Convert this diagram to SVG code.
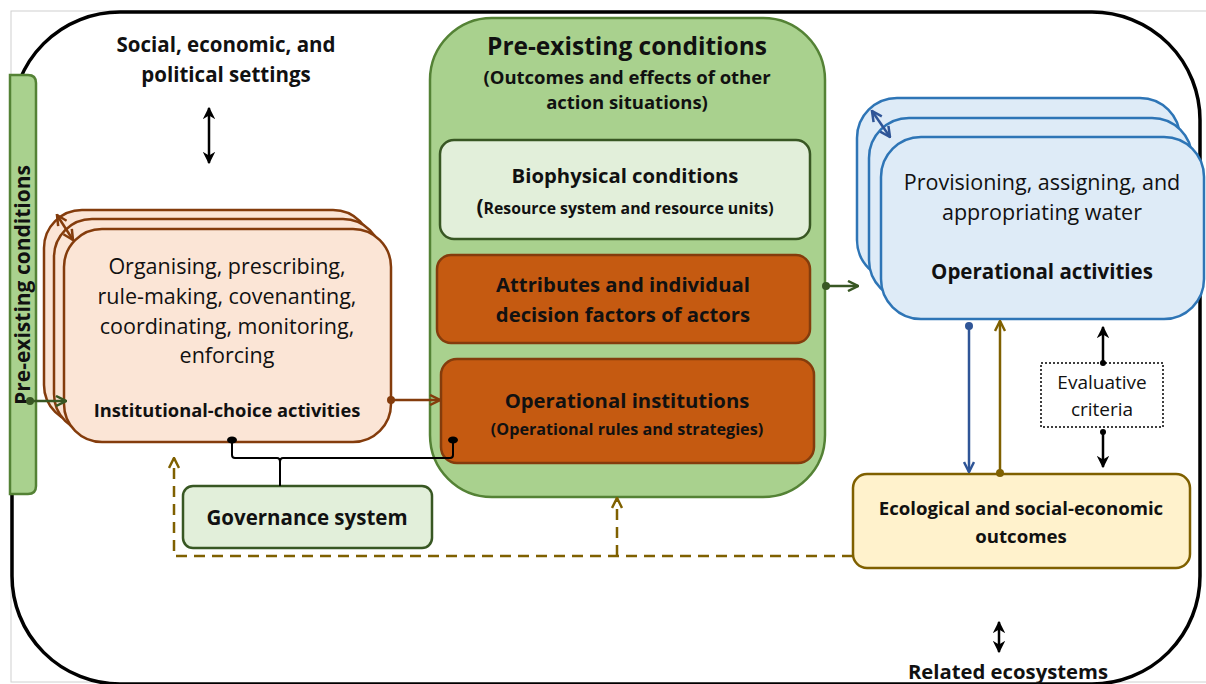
<svg xmlns="http://www.w3.org/2000/svg" width="1206" height="684" viewBox="0 0 1206 684">
<style>
text{font-family:"Open Sans","Liberation Sans",sans-serif;fill:#111;text-anchor:middle}
.b{font-weight:bold}
.green{fill:#a9d18e;stroke:#548235;stroke-width:2.5}
.lgreen{fill:#e2efda;stroke:#385723;stroke-width:2.5}
.rust{fill:#c55a11;stroke:#843c0c;stroke-width:2.5}
.peach{fill:#fbe5d6;stroke:#843c0c;stroke-width:2.5}
.blue{fill:#deebf7;stroke:#2e75b6;stroke-width:2.5}
.gold{fill:#fff2cc;stroke:#7f6000;stroke-width:2.5}
.ln{fill:none;stroke-width:2.5}
</style>
<defs>
<marker id="aG" viewBox="0 0 10 10" refX="9" refY="5" markerWidth="5" markerHeight="5" orient="auto-start-reverse" markerUnits="strokeWidth"><path d="M1,1 L9,5 L1,9" fill="none" stroke="#385723" stroke-width="2"/></marker>
<marker id="aR" viewBox="0 0 10 10" refX="9" refY="5" markerWidth="5" markerHeight="5" orient="auto-start-reverse" markerUnits="strokeWidth"><path d="M1,1 L9,5 L1,9" fill="none" stroke="#843c0c" stroke-width="2"/></marker>
<marker id="aB" viewBox="0 0 10 10" refX="9" refY="5" markerWidth="5" markerHeight="5" orient="auto-start-reverse" markerUnits="strokeWidth"><path d="M1,1 L9,5 L1,9" fill="none" stroke="#2f5597" stroke-width="2"/></marker>
<marker id="aY" viewBox="0 0 10 10" refX="9" refY="5" markerWidth="5" markerHeight="5" orient="auto-start-reverse" markerUnits="strokeWidth"><path d="M1,1 L9,5 L1,9" fill="none" stroke="#7f6000" stroke-width="2"/></marker>
<marker id="aK" viewBox="0 0 10 10" refX="9" refY="5" markerWidth="5" markerHeight="5" orient="auto-start-reverse" markerUnits="strokeWidth"><path d="M0,0 L10,5 L0,10 L3,5 Z" fill="#000"/></marker>
</defs>
<rect x="11" y="11" width="1200" height="671" fill="none" stroke="#d0d0d0" stroke-width="1"/>
<rect x="12" y="12" width="1188" height="672" rx="108" ry="108" fill="#fff" stroke="#000" stroke-width="3.5"/>

<g id="pre-left">
<path class="green" d="M10,75 H28 Q36,75 36,83 V486 Q36,494 28,494 H10 Z"/>
<text class="b" font-size="21" transform="translate(30,285) rotate(-90)">Pre-existing conditions</text>
</g>

<g id="settings">
<text class="b" font-size="20.5" x="226" y="52">Social, economic, and</text>
<text class="b" font-size="20.5" x="226" y="82">political settings</text>
</g>

<g id="pre-center">
<rect class="green" x="430" y="18" width="395" height="479" rx="62"/>
<text class="b" font-size="24.5" x="627" y="55">Pre-existing conditions</text>
<text class="b" font-size="18.5" x="627" y="84">(Outcomes and effects of other</text>
<text class="b" font-size="18.5" x="627" y="109">action situations)</text>
</g>
<g id="biophysical">
<rect class="lgreen" x="440" y="140" width="370" height="99" rx="14"/>
<text class="b" font-size="20.3" x="625" y="183">Biophysical conditions</text>
<text class="b" font-size="15.8" x="625" y="214"><tspan font-size="21">(</tspan>Resource system and resource units)</text>
</g>
<g id="attributes">
<rect class="rust" x="437" y="255" width="373" height="88" rx="14"/>
<text class="b" font-size="20.3" x="623" y="292">Attributes and individual</text>
<text class="b" font-size="20.3" x="623" y="322">decision factors of actors</text>
</g>
<g id="op-institutions">
<rect class="rust" x="441" y="359" width="373" height="104" rx="16"/>
<text class="b" font-size="20.3" x="627" y="408">Operational institutions</text>
<text class="b" font-size="16.2" x="627" y="435">(Operational rules and strategies)</text>
</g>

<g id="institutional-choice">
<rect class="peach" x="44" y="210" width="327" height="213" rx="38"/>
<rect class="peach" x="54" y="219" width="327" height="213" rx="38"/>
<rect class="peach" x="64" y="229" width="327" height="213" rx="38"/>
<text font-size="21.5" x="227" y="274">Organising, prescribing,</text>
<text font-size="21.5" x="227" y="304">rule-making, covenanting,</text>
<text font-size="21.5" x="227" y="334">coordinating, monitoring,</text>
<text font-size="21.5" x="227" y="363">enforcing</text>
<text class="b" font-size="18.3" x="227" y="417">Institutional-choice activities</text>
</g>

<g id="operational">
<rect class="blue" x="857" y="98" width="323" height="182" rx="40"/>
<rect class="blue" x="869" y="118" width="323" height="182" rx="40"/>
<rect class="blue" x="881" y="137" width="323" height="182" rx="40"/>
<text font-size="21.5" x="1042" y="190">Provisioning, assigning, and</text>
<text font-size="21.5" x="1042" y="220">appropriating water</text>
<text class="b" font-size="20.5" x="1042" y="279">Operational activities</text>
</g>

<g id="evaluative">
<rect x="1041" y="363" width="122" height="64" fill="#fff" stroke="#000" stroke-width="1.5" stroke-dasharray="2,2"/>
<text font-size="19" x="1102" y="389">Evaluative</text>
<text font-size="19" x="1102" y="416">criteria</text>
</g>

<g id="outcomes">
<rect class="gold" x="853" y="474" width="337" height="94" rx="14"/>
<text class="b" font-size="18.6" x="1021" y="515">Ecological and social-economic</text>
<text class="b" font-size="18.6" x="1021" y="543">outcomes</text>
</g>

<g id="governance">
<rect class="lgreen" x="183" y="486" width="249" height="62" rx="10"/>
<text class="b" font-size="20.5" x="307" y="525">Governance system</text>
</g>

<g id="related">
<text class="b" font-size="20.3" x="1008" y="679">Related ecosystems</text>
</g>

<g id="connectors">
<line x1="209" y1="108" x2="209" y2="163" stroke="#000" stroke-width="2.5" marker-start="url(#aK)" marker-end="url(#aK)"/>
<line x1="999" y1="622" x2="999" y2="652" stroke="#000" stroke-width="2.5" marker-start="url(#aK)" marker-end="url(#aK)"/>
<line x1="57" y1="215" x2="73" y2="240" stroke="#843c0c" stroke-width="2.5" marker-start="url(#aR)" marker-end="url(#aR)"/>
<line x1="872" y1="111" x2="890" y2="137" stroke="#2f5597" stroke-width="2.5" marker-start="url(#aB)" marker-end="url(#aB)"/>
<circle cx="30" cy="401" r="4" fill="#385723"/>
<line class="ln" x1="30" y1="401" x2="66" y2="401" stroke="#385723" marker-end="url(#aG)"/>
<circle cx="391" cy="400" r="4" fill="#843c0c"/>
<line class="ln" x1="391" y1="400" x2="440" y2="400" stroke="#843c0c" marker-end="url(#aR)"/>
<circle cx="826" cy="286" r="4" fill="#385723"/>
<line class="ln" x1="826" y1="286" x2="858" y2="286" stroke="#385723" marker-end="url(#aG)"/>
<circle cx="969" cy="326" r="4" fill="#2f5597"/>
<line class="ln" x1="969" y1="326" x2="969" y2="472" stroke="#2f5597" marker-end="url(#aB)"/>
<circle cx="1000" cy="473" r="4" fill="#7f6000"/>
<line class="ln" x1="1000" y1="473" x2="1000" y2="321" stroke="#7f6000" marker-end="url(#aY)"/>
<circle cx="1103" cy="363" r="3" fill="#000"/>
<line class="ln" x1="1103" y1="363" x2="1103" y2="327" stroke="#000" marker-end="url(#aK)"/>
<circle cx="1103" cy="432" r="3" fill="#000"/>
<line class="ln" x1="1103" y1="432" x2="1103" y2="467" stroke="#000" marker-end="url(#aK)"/>
<path class="ln" d="M853,556 H174 V458" stroke="#7f6000" stroke-dasharray="11,7" marker-end="url(#aY)"/>
<path class="ln" d="M617,556 V498" stroke="#7f6000" stroke-dasharray="11,7" marker-end="url(#aY)"/>
<ellipse cx="232" cy="440" rx="5" ry="3.5" fill="#000"/>
<ellipse cx="453" cy="440" rx="5" ry="3.5" fill="#000"/>
<path d="M232,440 V455 Q232,458 235,458 H277 Q280,458 280,462 M280,462 Q280,458 283,458 H450 Q453,458 453,455 V440 M280,462 V486" fill="none" stroke="#000" stroke-width="2"/>
</g>
</svg>
